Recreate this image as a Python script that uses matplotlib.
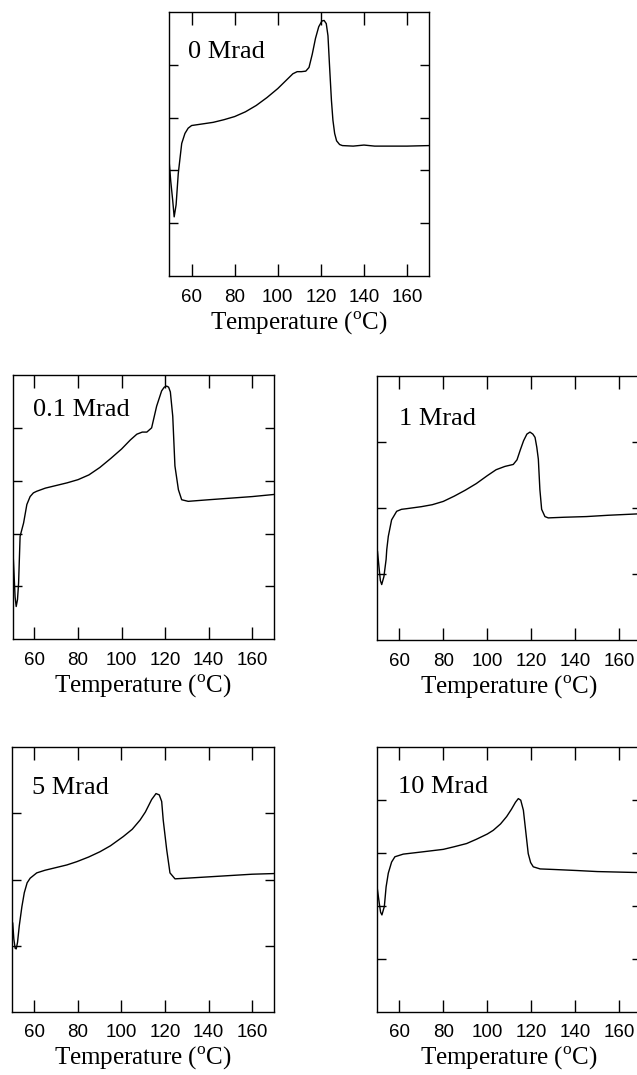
import matplotlib
matplotlib.use('Agg')
import matplotlib.pyplot as plt

plt.rcParams['mathtext.fontset'] = 'custom'
plt.rcParams['mathtext.rm'] = 'Liberation Serif'

# DSC traces: temperature (C) and heat flow (arb. units)
t_0 = [49.5, 50.3, 51.2, 51.9, 52.8, 53.8, 55.4, 56.9, 58.4, 60, 65, 70, 75, 80, 85, 90, 95, 100,
       104, 107, 109, 111, 113, 114.5, 116, 117.5, 119, 120.5, 121.5, 122.5, 123.3, 124.0, 124.9,
       125.6, 126.4, 127.3, 128.7, 130, 135, 140, 145, 150, 160, 170.2]
y_0 = [2.2, 1.8, 1.44, 1.12, 1.35, 1.94, 2.51, 2.7, 2.8, 2.85, 2.88, 2.91, 2.96, 3.02, 3.11, 3.23,
       3.38, 3.55, 3.71, 3.83, 3.87, 3.87, 3.88, 3.95, 4.2, 4.5, 4.72, 4.83, 4.84, 4.78, 4.55, 4.0,
       3.33, 2.95, 2.7, 2.56, 2.49, 2.47, 2.46, 2.48, 2.46, 2.46, 2.46, 2.47]

t_01 = [50.1, 50.6, 51.1, 51.6, 52.2, 52.7, 53.4, 55, 56.5, 58, 59.5, 61, 65, 70, 75, 80, 85, 90,
        95, 100, 104, 107, 109.5, 111.6, 113.8, 116.1, 118.4, 119.6, 120.7, 121.6, 122.4, 123.5,
        124.5, 126.1, 127.6, 130.6, 140, 150, 160, 170]
y_01 = [1.69, 1.25, 0.8, 0.62, 0.75, 1.06, 1.95, 2.2, 2.55, 2.7, 2.77, 2.8, 2.86, 2.91, 2.96, 3.02,
        3.11, 3.25, 3.42, 3.6, 3.77, 3.88, 3.92, 3.92, 4.0, 4.41, 4.7, 4.77, 4.79, 4.77, 4.68, 4.22,
        3.28, 2.83, 2.64, 2.61, 2.64, 2.67, 2.7, 2.74]

t_1 = [50.1, 50.9, 51.4, 52, 53, 54, 54.3, 55, 56.5, 58.8, 61, 63.4, 70, 75, 80, 85, 90, 95, 100,
       104, 108, 111.8, 113.5, 115, 116.5, 118, 119.4, 120.7, 121.7, 122.5, 123.2, 123.9, 124.7,
       126.2, 127.7, 135, 145, 155, 167.9, 170]
y_1 = [1.34, 1.06, 0.9, 0.84, 0.96, 1.22, 1.37, 1.57, 1.82, 1.95, 1.98, 1.99, 2.02, 2.05, 2.1, 2.18,
       2.27, 2.37, 2.49, 2.58, 2.63, 2.66, 2.73, 2.88, 3.02, 3.12, 3.15, 3.12, 3.07, 2.92, 2.74,
       2.28, 1.98, 1.87, 1.85, 1.86, 1.87, 1.89, 1.91, 1.91]

t_5 = [50.2, 50.7, 51.3, 51.8, 52.4, 53.2, 54.4, 55.5, 56.8, 58.2, 61.2, 65, 70, 75, 79.6, 85, 90.2,
       95, 100.9, 105, 108.6, 111, 113.9, 115.9, 117.4, 118.5, 119.2, 120.8, 122.3, 124.6, 130,
       140, 150, 160, 170]
y_5 = [1.34, 1.1, 0.96, 0.95, 1.05, 1.3, 1.59, 1.8, 1.95, 2.02, 2.1, 2.14, 2.18, 2.22, 2.27, 2.34,
       2.42, 2.51, 2.65, 2.76, 2.9, 3.02, 3.21, 3.3, 3.28, 3.18, 2.9, 2.45, 2.1, 2.01, 2.02, 2.04,
       2.06, 2.08, 2.09]

t_10 = [50, 50.9, 51.5, 52.1, 53.2, 54, 55, 56.5, 58, 61.8, 70, 80, 85, 90.6, 95, 100, 102.7, 106,
        108.8, 111, 112.8, 114.1, 115.2, 116.4, 117.5, 118.6, 119.7, 120.9, 124, 130, 140.6, 150,
        160, 170]
y_10 = [2.33, 2.05, 1.88, 1.83, 1.99, 2.36, 2.62, 2.83, 2.93, 2.98, 3.02, 3.07, 3.12, 3.18, 3.26,
        3.36, 3.43, 3.55, 3.69, 3.83, 3.96, 4.03, 4.0, 3.81, 3.4, 2.99, 2.82, 2.74, 2.7, 2.69, 2.67,
        2.65, 2.64, 2.63]

labels = ['0 Mrad', '0.1 Mrad', '1 Mrad', '5 Mrad', '10 Mrad']
xticks = [60, 80, 100, 120, 140, 160]

W, H = 637, 1075
fig = plt.figure(figsize=(W / 100, H / 100), dpi=100)


def px_rect(left, top, width, height):
    return [left / W, 1 - (top + height) / H, width / W, height / H]


panels = [
    (px_rect(169, 12, 260, 264), t_0, y_0, labels[0], 5, (49.5, 170.2), (0.073, 0.847)),
    (px_rect(12.7, 375, 261.3, 264.3), t_01, y_01, labels[1], 5, (50, 170), (0.078, 0.866)),
    (px_rect(377.3, 376, 264, 264), t_1, y_1, labels[2], 4, (50, 170), (0.083, 0.838)),
    (px_rect(12.3, 747.3, 261.7, 264.4), t_5, y_5, labels[3], 4, (50, 170), (0.076, 0.846)),
    (px_rect(377.3, 747.3, 264, 264.4), t_10, y_10, labels[4], 5, (50, 170), (0.08, 0.848)),
]

for rect, t, y, lab, ntop, xl, lpos in panels:
    ax = fig.add_axes(rect)
    ax.plot(t, y, color='black', lw=1.0)
    ax.set_xlim(*xl)
    ax.set_ylim(0, ntop)
    ax.set_xticks(xticks)
    ax.set_yticks(range(1, ntop))
    ax.set_yticklabels([])
    ax.tick_params(axis='x', direction='in', length=9, width=1.0, top=True, pad=9,
                   labelsize=13.5)
    ax.tick_params(axis='y', direction='in', length=6.5, width=1.0, right=True)
    for lbl in ax.get_xticklabels():
        lbl.set_family('Liberation Sans')
    for s in ax.spines.values():
        s.set_linewidth(1.0)
    ax.text(lpos[0], lpos[1], lab, transform=ax.transAxes, ha='left', va='center',
            family='Liberation Serif', fontsize=19)
    ax.set_xlabel('Temperature ($^{\\rm o}$C)', family='Liberation Serif', fontsize=18,
                  labelpad=3)

fig.savefig('out.png', dpi=100)
